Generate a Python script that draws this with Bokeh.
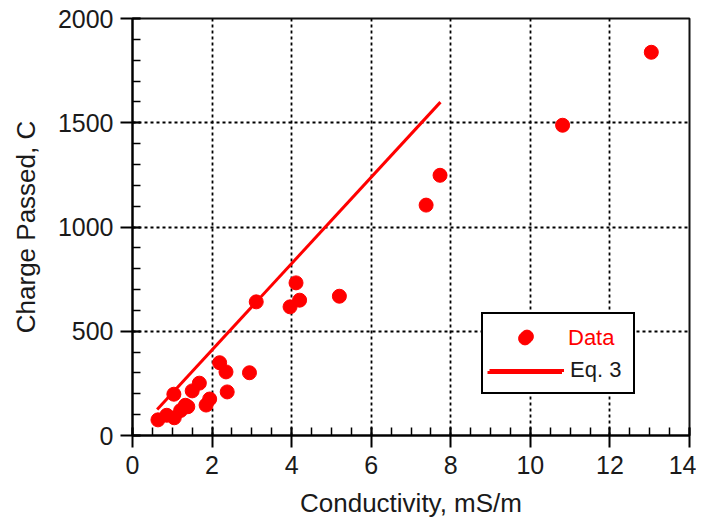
from bokeh.plotting import figure
from bokeh.models import Range1d, Legend, LegendItem, SingleIntervalTicker
from bokeh.core.properties import value
from bokeh.embed import file_html
from bokeh.resources import INLINE

# Data
conductivity = [0.64, 0.86, 1.05, 1.04, 1.21, 1.33, 1.39, 1.50, 1.68, 1.85, 1.94,
                2.19, 2.35, 2.38, 2.94, 3.11, 3.96, 4.11, 4.20, 5.20, 7.38, 7.73,
                10.81, 13.04]
charge = [75, 97, 85, 198, 120, 145, 138, 214, 251, 146, 175,
          349, 305, 209, 301, 641, 617, 732, 649, 668, 1105, 1248,
          1488, 1838]
eq3_x = [0.62, 7.74]
eq3_y = [125, 1599]

x_ticks = [0, 2, 4, 6, 8, 10, 12, 14]
y_ticks = [0, 500, 1000, 1500, 2000]

FONT = "Liberation Sans"
RED = "#ff0000"

p = figure(width=696, height=525, output_backend="svg", toolbar_location=None,
           x_range=Range1d(x_ticks[0], x_ticks[-1]),
           y_range=Range1d(y_ticks[0], y_ticks[-1]),
           min_border_left=132, min_border_right=7, min_border_top=18,
           min_border_bottom=90)
p.background_fill_color = "white"
p.border_fill_color = "white"
p.outline_line_color = "#111111"
p.outline_line_width = 2
p.outline_line_alpha = 1.0

line_r = p.line(eq3_x, eq3_y, line_color=RED, line_width=3)
pts_r = p.scatter(conductivity, charge, size=14, fill_color=RED, line_color=RED)

# Axes
p.xaxis.ticker = SingleIntervalTicker(interval=2, num_minor_ticks=4)
p.yaxis.ticker = SingleIntervalTicker(interval=500, num_minor_ticks=5)
for ax in (p.xaxis, p.yaxis):
    ax.axis_line_width = 2
    ax.axis_line_color = "black"
    ax.major_tick_line_width = 2
    ax.major_tick_line_color = "black"
    ax.minor_tick_line_width = 1.5
    ax.minor_tick_line_color = "black"
    ax.major_tick_out = 12
    ax.major_tick_in = 8
    ax.minor_tick_out = 0
    ax.minor_tick_in = 8
    ax.major_label_text_font = FONT
    ax.major_label_text_font_size = "25px"
    ax.major_label_text_color = "#1a1a1a"
    ax.axis_label_text_font = FONT
    ax.axis_label_text_font_size = "26px"
    ax.axis_label_text_font_style = "normal"
    ax.axis_label_text_color = "#1a1a1a"
p.xaxis.axis_label = "Conductivity, mS/m"
p.yaxis.axis_label = "Charge Passed, C"
p.xaxis.major_label_standoff = 8
p.yaxis.major_label_standoff = 7
p.xaxis.axis_label_standoff = 11
p.yaxis.axis_label_standoff = 14

# Grid
for g in (p.xgrid, p.ygrid):
    g.grid_line_color = "black"
    g.grid_line_width = 1.8
    g.grid_line_dash = "3 3"

# Legend: two identically laid-out legends at the same spot;
# the boxed one carries the black "Eq. 3" label, the overlay the red "Data" label.
# (The overlay keeps an invisible border so that its padding is applied.)
common = dict(location=(349, 41), padding=6, spacing=2, glyph_width=75,
              glyph_height=32, label_height=32, label_width=57, label_standoff=6,
              label_text_font=FONT, label_text_font_size="22px",
              border_line_width=2)
leg_box = Legend(items=[LegendItem(label=value(""), renderers=[pts_r]),
                        LegendItem(label=value("Eq. 3"), renderers=[line_r])],
                 border_line_color="black", border_line_alpha=1.0,
                 background_fill_color="white", background_fill_alpha=1.0,
                 label_text_color="#1a1a1a", **common)
leg_data = Legend(items=[LegendItem(label=value("Data"), renderers=[pts_r]),
                         LegendItem(label=value(""), renderers=[line_r])],
                  border_line_color="white", border_line_alpha=0.0,
                  background_fill_alpha=0.0,
                  label_text_color=RED, **common)
p.add_layout(leg_box)
p.add_layout(leg_data)

open("out.html", "w").write(file_html(p, INLINE))
